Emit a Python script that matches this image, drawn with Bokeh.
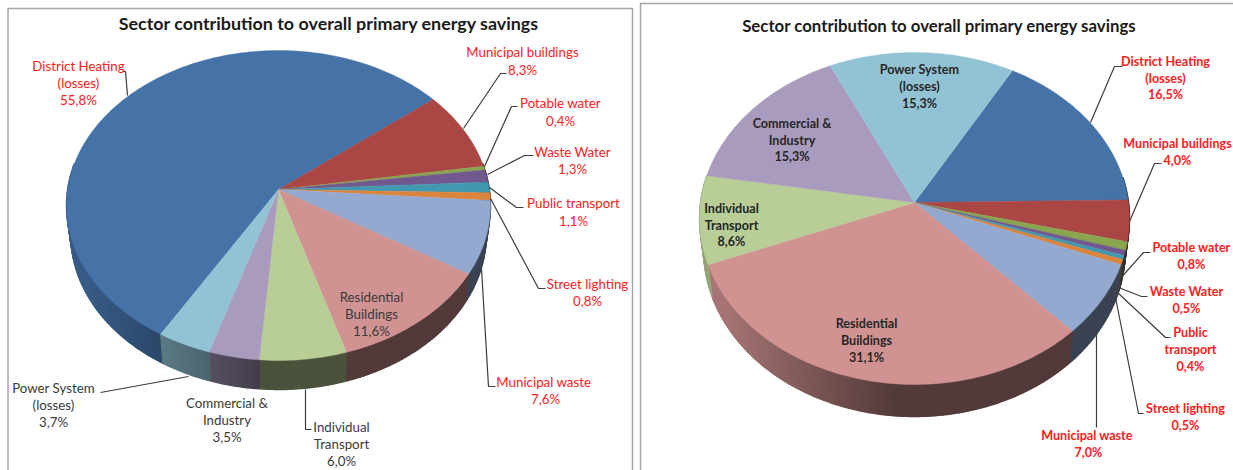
import math
from bokeh.plotting import figure
from bokeh.models import Range1d
from bokeh.core.properties import value
from bokeh.embed import file_html
from bokeh.resources import INLINE

# ---- data ----
title = "Sector contribution to overall primary energy savings"
categories = ["District Heating|(losses)", "Municipal buildings", "Potable water", "Waste Water",
              "Public transport", "Street lighting", "Municipal  waste", "Residential|Buildings",
              "Individual|Transport", "Commercial &|Industry", "Power System|(losses)"]
categories_right = list(categories)
categories_right[4] = "Public|transport"
values_left = [55.8, 8.3, 0.4, 1.3, 1.1, 0.8, 7.6, 11.6, 6.0, 3.5, 3.7]
values_right = [16.5, 4.0, 0.8, 0.5, 0.4, 0.5, 7.0, 31.1, 8.6, 15.3, 15.3]

# ---- styles ----
colors = ["#4572A7", "#AA4643", "#89A54E", "#71588F", "#4198AF", "#DB843D",
          "#93A9CF", "#D19392", "#B9CD96", "#A99BBD", "#92C3D4"]
label_red = [True, True, True, True, True, True, True, False, False, False, False]

# ---- layout (page pixels) ----
left_geom = dict(cx=278, cy=189, rx=212, up=139, down=171, depth=29, start=-149.4)
right_geom = dict(cx=914, cy=202, rx=215, up=150, down=182, depth=32, start=29.7)
left_pos = [(78, 65, 17), (522, 51, 18), (560, 102, 18), (572, 151, 17), (573, 202, 18), (587, 283, 17),
            (545, 381, 17), (371, 296, 17), (341, 426, 17), (226.5, 402, 17), (53, 387, 17)]
right_pos = [(1165, 61, 16.5), (1177, 143, 17), (1191, 247, 17), (1186, 291, 17), (1190, 332, 17), (1185, 408, 17),
             (1088, 435, 17), (866, 323, 17), (731, 208, 16.5), (791.5, 123, 16.5), (919, 69, 17)]
left_leaders = [([122, 125, 127], [71, 71, 95]), ([506, 500, 463], [73, 73, 128]),
                ([517, 511, 484], [106, 106, 166]), ([533, 524, 487], [155, 155, 174]),
                ([523, 516, 489], [207, 207, 187]), ([545, 538, 490], [288, 288, 198]),
                ([495, 488, 481], [386, 386, 268]), ([311, 305, 305], [429, 429, 389]),
                ([100, 188], [392, 376])]
right_leaders = [([1122, 1114, 1090], [66, 66, 122]), ([1161, 1154, 1129], [163, 163, 221]),
                 ([1150, 1143, 1118], [252, 252, 280]), ([1147, 1141, 1118], [296, 296, 287]),
                 ([1170, 1165, 1117], [337, 337, 292]), ([1143, 1138, 1115], [413, 413, 297]),
                 ([1096, 1096], [332, 427])]

p = figure(width=1233, height=470, output_backend="svg", toolbar_location=None,
           x_range=Range1d(0, 1233), y_range=Range1d(470, 0), min_border=0,
           background_fill_color="white", border_fill_color="white", outline_line_color=None)
p.xaxis.visible = False
p.yaxis.visible = False
p.xgrid.visible = False
p.ygrid.visible = False


def shade(hex_color, f):
    r, g, b = (int(hex_color[i:i + 2], 16) for i in (1, 3, 5))
    return "#%02x%02x%02x" % (int(r * f), int(g * f), int(b * f))


def draw_pie(vals, g):
    k_ratio = g["down"] / g["up"]
    k = (k_ratio - 1) / (k_ratio + 1)
    a = g["up"] * (1 + k)
    b = g["rx"] * math.sqrt(1 - k * k)

    def pt(deg):
        t = math.radians(deg)
        u, v = math.sin(t), math.cos(t)
        return g["cx"] + b * u / (1 + k * v), g["cy"] - a * v / (1 + k * v)

    def low(x):
        return g["cx"] + (x - g["cx"]) * 0.98

    total = sum(vals)
    angle = g["start"]
    tops_x, tops_y, tops_c = [], [], []
    sx, sy, sc = [], [], []
    for val, col in zip(vals, colors):
        span = val / total * 360
        n = max(2, int(span / 1.0))
        arc = [pt(angle + span * i / n) for i in range(n + 1)]
        tops_x.append([g["cx"]] + [q[0] for q in arc])
        tops_y.append([g["cy"]] + [q[1] for q in arc])
        tops_c.append(col)
        for (x0, y0), (x1, y1) in zip(arc[:-1], arc[1:]):
            if max(y0, y1) < g["cy"] - 25:
                continue
            nx = ((x0 + x1) / 2 - g["cx"]) / g["rx"]
            f = 0.40 + 0.40 * max(0.0, min(1.0, (-nx - 0.1) / 0.8))
            sx.append([x0, x1, low(x1), low(x0)])
            sy.append([y0, y1, y1 + g["depth"], y0 + g["depth"]])
            sc.append(shade(col, f))
        angle += span
    p.patches(sx, sy, fill_color=sc, line_color=sc, line_width=1.4)
    p.patches(tops_x, tops_y, fill_color=tops_c, line_color=tops_c, line_width=0.4)


def draw_labels(cats, vals, pos, bold):
    for cat, val, (x, y, dy), red in zip(cats, vals, pos, label_red):
        lines = cat.split("|") + [f"{val:.1f}".replace(".", ",") + "%"]
        xs = [x] * len(lines)
        ys = [y + dy * i for i in range(len(lines))]
        p.text(xs, ys, text=lines, text_font=value("Lato"), text_font_size="13.3px" if not bold else "12.6px",
               text_font_style="bold" if bold else "normal",
               text_color="#ff2020" if red else ("#262626" if bold else "#3a3a3a"),
               text_align="center", text_baseline="middle")


# panel frames
p.line([7.5, 7.5, 632, 632], [470, 8, 8, 470], line_color="#a6a6a6", line_width=1.5)
p.line([640, 640, 1233], [470, 3, 3], line_color="#a6a6a6", line_width=1.5)

draw_pie(values_left, left_geom)
draw_pie(values_right, right_geom)

p.multi_line([l[0] for l in left_leaders + right_leaders], [l[1] for l in left_leaders + right_leaders],
             line_color="#3c3c3c", line_width=1.2)

draw_labels(categories, values_left, left_pos, False)
draw_labels(categories_right, values_right, right_pos, True)

p.text([328.6], [22], text=[title], text_font=value("Lato"), text_font_size="17.9px", text_font_style="bold",
       text_color="#1a1a1a", text_align="center", text_baseline="middle")
p.text([939], [25], text=[title], text_font=value("Lato"), text_font_size="16.8px", text_font_style="bold",
       text_color="#1a1a1a", text_align="center", text_baseline="middle")

open("out.html", "w").write(file_html(p, INLINE))
